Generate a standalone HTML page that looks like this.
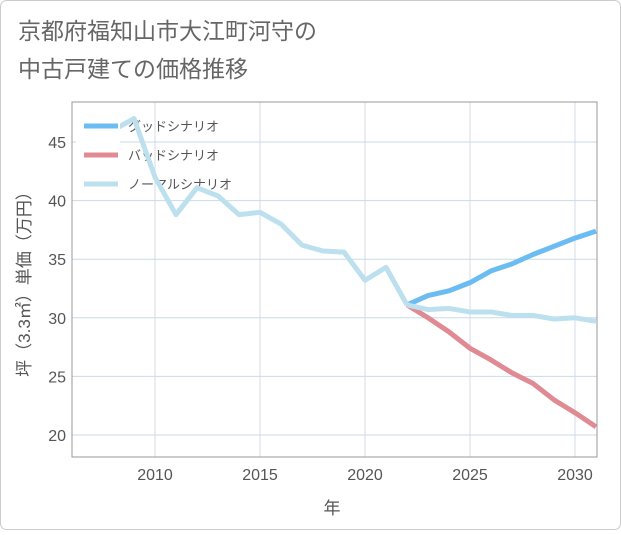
<!DOCTYPE html>
<html><head><meta charset="utf-8">
<style>
body{margin:0;background:#fff;}
svg text{font-family:"Liberation Sans","Noto Sans CJK JP",sans-serif;}
</style></head>
<body>
<svg width="621" height="530" viewBox="0 0 621 530" xmlns="http://www.w3.org/2000/svg">
<rect x="0.5" y="0.5" width="620" height="529" rx="6" fill="#fff" stroke="#ccc"/>
<text x="18" y="39" font-size="23" fill="#666">京都府福知山市大江町河守の</text>
<text x="18" y="77" font-size="23" fill="#666">中古戸建ての価格推移</text>
<g id="grid"></g>
<g>
<rect x="76" y="108" width="44" height="92" fill="#fff"/>
<line x1="84" y1="126" x2="118" y2="126" stroke="#6bbcf2" stroke-width="5"/>
<text x="128" y="131" font-size="13" fill="#555">グッドシナリオ</text>
<line x1="84" y1="155" x2="118" y2="155" stroke="#e08a93" stroke-width="5"/>
<text x="128" y="160" font-size="13" fill="#555">バッドシナリオ</text>
<line x1="84" y1="184" x2="118" y2="184" stroke="#bde0ee" stroke-width="5"/>
<text x="128" y="189" font-size="13" fill="#555">ノーマルシナリオ</text>
</g>
<g id="series"></g>
<rect x="72" y="102" width="525" height="355" fill="none" stroke="#999"/>
<g id="xticks"></g>
<g id="yticks"></g>
<text x="332" y="514" font-size="17" fill="#555" text-anchor="middle">年</text>
<text transform="translate(30,280) rotate(-90)" font-size="17" fill="#555" text-anchor="middle">坪（3.3㎡）単価（万円）</text>
</svg>
<script>
const histYears=[2008,2009,2010,2011,2012,2013,2014,2015,2016,2017,2018,2019,2020,2021,2022];
const histValues=[46.0,47.0,42.0,38.8,41.1,40.4,38.8,39.0,38.0,36.2,35.7,35.6,33.2,34.3,31.1];
const futYears=[2022,2023,2024,2025,2026,2027,2028,2029,2030,2031];
const goodValues=[31.1,31.9,32.3,33.0,34.0,34.6,35.4,36.1,36.8,37.4];
const badValues=[31.1,30.0,28.8,27.4,26.4,25.3,24.4,23.0,21.9,20.7];
const normalValues=[31.1,30.7,30.8,30.5,30.5,30.2,30.2,29.9,30.0,29.7];
const xTicks=[2010,2015,2020,2025,2030];
const yTicks=[20,25,30,35,40,45];

const NS="http://www.w3.org/2000/svg";
const L=72,R=597,T=102,B=457;
function xs(y){return 155+(y-2010)*21;}
function ys(v){return 142+(45-v)*11.72;}
function mk(tag,attrs,parent){const e=document.createElementNS(NS,tag);for(const k in attrs)e.setAttribute(k,attrs[k]);parent.appendChild(e);return e;}
const grid=document.getElementById('grid'),xt=document.getElementById('xticks'),yt=document.getElementById('yticks'),ser=document.getElementById('series');
xTicks.forEach(t=>{
  const l=mk('line',{x1:xs(t),x2:xs(t),y1:T,y2:B,stroke:'#d4dde6','stroke-width':1},grid);
  
  
  const tx=mk('text',{x:xs(t),y:480,'font-size':16,fill:'#555','text-anchor':'middle'},xt);
  tx.textContent=t;
  
  
});
yTicks.forEach(t=>{
  const l=mk('line',{x1:L,x2:R,y1:ys(t),y2:ys(t),stroke:'#c8dbe8','stroke-width':1},grid);
  
  
  const tx=mk('text',{x:66,y:ys(t)+6,'font-size':16,fill:'#555','text-anchor':'end'},yt);
  tx.textContent=t;
  
  
});
function line(years,vals,color,name){
  const pts=years.map((y,i)=>xs(y)+','+ys(vals[i])).join(' ');
  const p=mk('polyline',{points:pts,fill:'none',stroke:color,'stroke-width':5,'stroke-linejoin':'round'},ser);
  
  
}
const clip=mk('clipPath',{id:'pc'},document.querySelector('svg'));
mk('rect',{x:120,y:T,width:R-120,height:B-T},clip);
ser.setAttribute('clip-path','url(#pc)');
line(futYears,goodValues,'#6bbcf2','good-scenario-line');
line(futYears,badValues,'#e08a93','bad-scenario-line');
line(futYears,normalValues,'#bde0ee','normal-scenario-line');
line(histYears,histValues,'#bde0ee','historical-line');
</script>
</body></html>
